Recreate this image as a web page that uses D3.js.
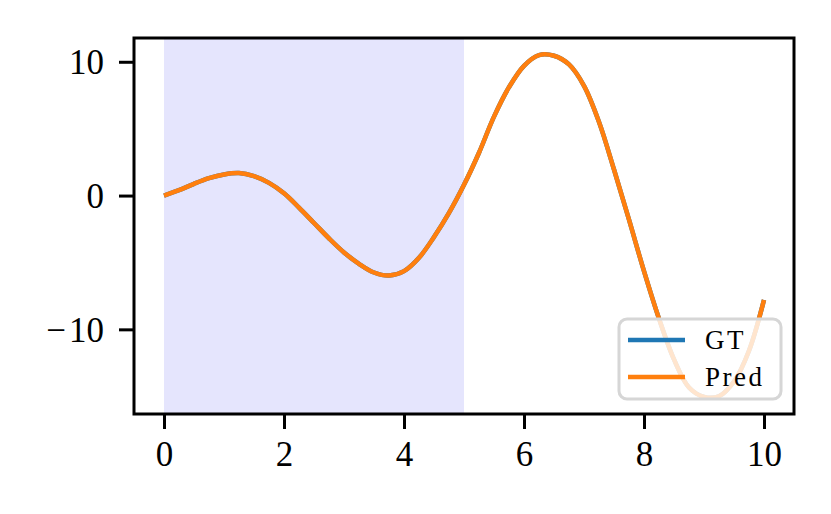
<!DOCTYPE html>
<html>
<head>
<meta charset="utf-8">
<script src="https://cdn.jsdelivr.net/npm/d3@7"></script>
<style>
  body { margin: 0; background: #fff; }
  text { font-family: "Liberation Serif", "DejaVu Serif", serif; }
</style>
</head>
<body>
<div id="chart"></div>
<script>
// values
const xValues = [0, 0.25, 0.5, 0.75, 1, 1.25, 1.5, 1.75, 2, 2.25, 2.5, 2.75, 3, 3.25, 3.5, 3.75,
  4, 4.25, 4.5, 4.75, 5, 5.25, 5.5, 5.75, 6, 6.25, 6.5, 6.75, 7, 7.25, 7.5, 7.75,
  8, 8.25, 8.5, 8.75, 9, 9.25, 9.5, 9.75, 10];
const predValues = [0, 0.4, 0.88, 1.3, 1.58, 1.68, 1.45, 0.95, 0.17, -0.9, -2.05, -3.2, -4.25, -5.1, -5.75, -5.98,
  -5.65, -4.65, -3.1, -1.3, 0.8, 3.2, 5.9, 8.1, 9.7, 10.5, 10.45, 9.8, 8.2, 5.5, 1.95, -1.8,
  -5.65, -9.2, -12.25, -14.35, -15.05, -15.0, -13.9, -11.6, -7.8];
const gtValues = predValues.slice();
const shadeRange = [0, 5];
const xTicks = [0, 2, 4, 6, 8, 10];
const yTicks = [-10, 0, 10];
const legendLabels = ["GT", "Pred"];
const legendColors = ["#1f77b4", "#ff7f0e"];

const width = 831, height = 514;
const margin = {top: 38, right: 37, bottom: 100, left: 134};
const innerW = width - margin.left - margin.right;
const innerH = height - margin.top - margin.bottom;

const svg = d3.select('#chart').append('svg')
  .attr('width', width)
  .attr('height', height);

const g = svg.append('g')
  .attr('transform', `translate(${margin.left},${margin.top})`);

const xExt = d3.extent(xValues);
const xPad = (xExt[1] - xExt[0]) * 0.05;
const xScale = d3.scaleLinear()
  .domain([xExt[0] - xPad, xExt[1] + xPad])
  .range([0, innerW]);

const yExt = d3.extent(gtValues.concat(predValues));
const yPad = (yExt[1] - yExt[0]) * 0.05;
const yScale = d3.scaleLinear()
  .domain([yExt[0] - yPad, yExt[1] + yPad])
  .range([innerH, 0]);

// shaded span
g.append('rect')
  .attr('x', xScale(shadeRange[0]))
  .attr('y', 0)
  .attr('width', xScale(shadeRange[1]) - xScale(shadeRange[0]))
  .attr('height', innerH)
  .attr('fill', 'rgb(229,229,253)');

const line = d3.line()
  .x((d, i) => xScale(xValues[i]))
  .y(d => yScale(d))
  .curve(d3.curveCatmullRom);

g.append('path')
  .datum(gtValues)
  .attr('d', line)
  .attr('fill', 'none')
  .attr('stroke', legendColors[0])
  .attr('stroke-width', 4.5);

g.append('path')
  .datum(predValues)
  .attr('d', line)
  .attr('fill', 'none')
  .attr('stroke', legendColors[1])
  .attr('stroke-width', 4.5);

// axes
const xAxis = d3.axisBottom(xScale).tickValues(xTicks).tickSize(15).tickPadding(12)
  .tickFormat(d3.format('d'));
const xg = g.append('g')
  .attr('transform', `translate(0,${innerH})`)
  .call(xAxis);

const yAxis = d3.axisLeft(yScale).tickValues(yTicks).tickSize(15).tickPadding(15)
  .tickFormat(d => d < 0 ? '\u2212\u200a' + Math.abs(d) : d);
const yg = g.append('g').call(yAxis);

[xg, yg].forEach(a => {
  a.select('.domain').remove();
  a.selectAll('.tick line').attr('stroke', '#000').attr('stroke-width', 3);
  a.selectAll('.tick text').attr('fill', '#000').style('font-size', '35px');
});
yg.selectAll('.tick text').attr('dy', '0.34em');

// frame
g.append('rect')
  .attr('width', innerW)
  .attr('height', innerH)
  .attr('fill', 'none')
  .attr('stroke', '#000')
  .attr('stroke-width', 3);

// legend
const legend = g.append('g')
  .attr('transform', `translate(${619 - margin.left},${319 - margin.top})`);

legend.append('rect')
  .attr('width', 162)
  .attr('height', 80)
  .attr('rx', 8)
  .attr('fill', 'rgba(255,255,255,0.8)')
  .attr('stroke', '#d6d6d6')
  .attr('stroke-width', 3);

const items = legend.selectAll('.item')
  .data(legendLabels)
  .enter()
  .append('g')
  .attr('transform', (d, i) => `translate(0,${21 + i * 37})`);

items.append('line')
  .attr('x1', 9).attr('x2', 66)
  .attr('stroke', (d, i) => legendColors[i])
  .attr('stroke-width', 4.5);

items.append('text')
  .attr('x', 86)
  .attr('dy', '0.35em')
  .style('font-size', '27px')
  .style('letter-spacing', '2.5px')
  .text(d => d);
</script>
</body>
</html>
